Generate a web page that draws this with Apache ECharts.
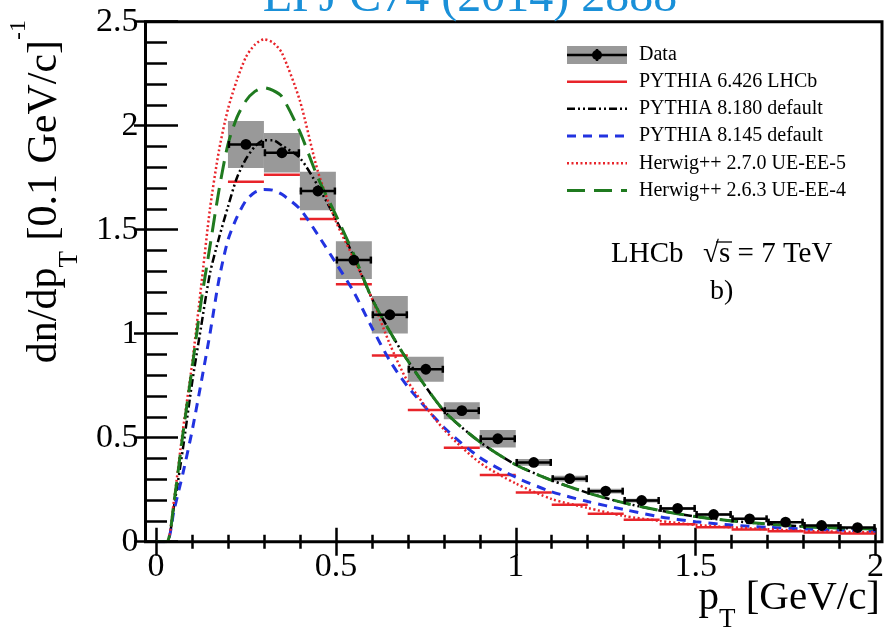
<!DOCTYPE html>
<html>
<head>
<meta charset="utf-8">
<script src="https://cdn.jsdelivr.net/npm/echarts@6/dist/echarts.min.js"></script>
<style>
  html, body { margin: 0; padding: 0; background: #fff; }
  #chart { width: 895px; height: 632px; }
</style>
</head>
<body>
<div id="chart"></div>
<script>
  // data bins (pT centres, 0.1 GeV/c wide)
  var binCenters = [0.25, 0.35, 0.45, 0.55, 0.65, 0.75, 0.85, 0.95, 1.05, 1.15, 1.25, 1.35, 1.45, 1.55, 1.65, 1.75, 1.85, 1.95];
  var dataVal    = [1.91, 1.87, 1.686, 1.354, 1.091, 0.829, 0.63, 0.495, 0.381, 0.303, 0.243, 0.198, 0.16, 0.131, 0.11, 0.094, 0.078, 0.068];
  var dataSyst   = [0.113, 0.095, 0.093, 0.091, 0.09, 0.06, 0.041, 0.042, 0.016, 0.014, 0.011, 0.009, 0.007, 0.006, 0.005, 0.004, 0.004, 0.003];
  var pythia6    = [1.731, 1.764, 1.551, 1.238, 0.895, 0.633, 0.452, 0.321, 0.236, 0.178, 0.134, 0.106, 0.084, 0.07, 0.059, 0.05, 0.044, 0.039];

  // model curves
  var ptGrid     = [0, 0.03, 0.05, 0.075, 0.1, 0.125, 0.15, 0.175, 0.2, 0.225, 0.25, 0.275, 0.3, 0.325, 0.35, 0.4, 0.45, 0.5, 0.55, 0.6, 0.65, 0.7, 0.8, 0.9, 1.0, 1.1, 1.2, 1.3, 1.4, 1.5, 1.6, 1.7, 1.8, 1.9, 2.0];
  var pythia8180 = [0, 0, 0.17, 0.45, 0.76, 1.03, 1.29, 1.46, 1.61, 1.75, 1.84, 1.9, 1.93, 1.93, 1.905, 1.845, 1.71, 1.55, 1.37, 1.17, 1.01, 0.87, 0.63, 0.48, 0.37, 0.295, 0.235, 0.187, 0.15, 0.121, 0.1, 0.085, 0.073, 0.066, 0.061];
  var pythia8145 = [0, 0, 0.15, 0.33, 0.53, 0.76, 1.0, 1.26, 1.45, 1.56, 1.64, 1.68, 1.693, 1.69, 1.67, 1.6, 1.475, 1.34, 1.2, 1.03, 0.87, 0.745, 0.55, 0.405, 0.31, 0.24, 0.193, 0.155, 0.12, 0.096, 0.08, 0.069, 0.061, 0.056, 0.051];
  var herwig270  = [0, 0, 0.2, 0.54, 0.85, 1.22, 1.6, 1.88, 2.08, 2.22, 2.33, 2.39, 2.415, 2.4, 2.35, 2.12, 1.78, 1.54, 1.36, 1.17, 0.95, 0.77, 0.54, 0.38, 0.28, 0.205, 0.162, 0.124, 0.1, 0.081, 0.069, 0.06, 0.052, 0.048, 0.045];
  var herwig263  = [0, 0, 0.19, 0.52, 0.83, 1.15, 1.42, 1.69, 1.91, 2.04, 2.12, 2.165, 2.183, 2.17, 2.14, 1.97, 1.75, 1.57, 1.38, 1.17, 1.01, 0.87, 0.63, 0.48, 0.37, 0.295, 0.235, 0.187, 0.15, 0.121, 0.1, 0.085, 0.073, 0.066, 0.061];

  var FONT  = "'Liberation Serif', 'Times New Roman', serif";
  var RED   = '#e8242a';
  var GREEN = '#1f7a1f';
  var BLUE  = '#2233e0';
  var GREY  = '#999999';
  var HALF  = 0.05;

  var chart = echarts.init(document.getElementById('chart'), null, { renderer: 'canvas' });

  function pairs(vals) {
    return ptGrid.map(function (x, i) { return [x, vals[i]]; });
  }
  function binRows(vals, extra) {
    return binCenters.map(function (x, i) { return extra ? [x, vals[i], extra[i]] : [x, vals[i]]; });
  }

  function curve(name, vals, color, width, dash, z) {
    return {
      type: 'line', name: name, data: pairs(vals), symbol: 'none', showSymbol: false,
      smooth: 0.25, z: z, silent: true,
      lineStyle: { color: color, width: width, type: dash, cap: 'butt' }
    };
  }

  // grey systematic boxes
  function renderBox(params, api) {
    var x = api.value(0), y = api.value(1), e = api.value(2);
    var a = api.coord([x - HALF, y + e]);
    var b = api.coord([x + HALF, y - e]);
    return { type: 'rect', shape: { x: a[0], y: a[1], width: b[0] - a[0], height: b[1] - a[1] }, style: { fill: GREY } };
  }
  // PYTHIA 6 histogram: one flat segment per bin
  function renderStep(params, api) {
    var x = api.value(0), y = api.value(1);
    var a = api.coord([x - HALF, y]);
    var b = api.coord([x + HALF, y]);
    return { type: 'line', shape: { x1: a[0], y1: a[1], x2: b[0], y2: b[1] }, style: { stroke: RED, lineWidth: 2.5 } };
  }
  // data points with horizontal bars and caps
  function renderPoint(params, api) {
    var x = api.value(0), y = api.value(1);
    var c = api.coord([x, y]);
    var a = api.coord([x - HALF, y]);
    var b = api.coord([x + HALF, y]);
    var st = { stroke: '#000', lineWidth: 2.5 };
    return {
      type: 'group', children: [
        { type: 'line', shape: { x1: a[0], y1: c[1], x2: b[0], y2: c[1] }, style: st },
        { type: 'line', shape: { x1: a[0] + 1, y1: c[1] - 3.5, x2: a[0] + 1, y2: c[1] + 3.5 }, style: st },
        { type: 'line', shape: { x1: b[0] - 1, y1: c[1] - 3.5, x2: b[0] - 1, y2: c[1] + 3.5 }, style: st },
        { type: 'circle', shape: { cx: c[0], cy: c[1], r: 5.4 }, style: { fill: '#000' } }
      ]
    };
  }

  var axisTickStyle = { color: '#000', width: 2.5 };
  function xAx(pos, showLabel) {
    return {
      type: 'value', position: pos, min: 0, max: 2, interval: 0.5,
      axisLine: { show: false }, splitLine: { show: false },
      axisTick: { inside: true, length: 14, lineStyle: axisTickStyle },
      minorTick: { show: true, splitNumber: 5, length: 7, lineStyle: axisTickStyle },
      axisLabel: { show: showLabel, margin: 8, fontSize: 34, fontFamily: FONT, color: '#000' }
    };
  }
  function yAx(pos, offset, showLabel) {
    return {
      type: 'value', position: pos, offset: offset, min: 0, max: 2.5, interval: 0.5,
      axisLine: { show: false }, splitLine: { show: false },
      axisTick: { inside: true, length: 22, lineStyle: axisTickStyle },
      minorTick: { show: true, splitNumber: 5, length: 11, lineStyle: axisTickStyle },
      axisLabel: { show: showLabel, margin: 7, fontSize: 34, fontFamily: FONT, color: '#000' }
    };
  }

  // manual legend (ROOT style)
  var legX = 567, legW = 60, legTx = 639, legY = [55, 81.7, 108.8, 136, 163.3, 190.6];
  var legLines = [
    ['PYTHIA 6.426 LHCb', RED, 2.5, 'solid'],
    ['PYTHIA 8.180 default', '#000', 2.5, [8, 3, 2, 3, 2, 3]],
    ['PYTHIA 8.145 default', BLUE, 3, [9, 7]],
    ['Herwig++ 2.7.0 UE-EE-5', RED, 2.5, [2, 2.5]],
    ['Herwig++ 2.6.3 UE-EE-4', GREEN, 3, [18, 9]]
  ];
  var legend = [
    { type: 'rect', shape: { x: legX, y: legY[0] - 9, width: legW, height: 18 }, style: { fill: GREY } },
    { type: 'line', shape: { x1: legX, y1: legY[0], x2: legX + legW, y2: legY[0] }, style: { stroke: '#000', lineWidth: 2.5 } },
    { type: 'line', shape: { x1: legX + legW / 2, y1: legY[0] - 6, x2: legX + legW / 2, y2: legY[0] + 6 }, style: { stroke: '#000', lineWidth: 2.5 } },
    { type: 'circle', shape: { cx: legX + legW / 2, cy: legY[0], r: 5 }, style: { fill: '#000' } },
    { type: 'text', x: legTx, y: legY[0], style: { text: 'Data', font: '20px ' + FONT, fill: '#000', verticalAlign: 'middle' } }
  ];
  legLines.forEach(function (l, i) {
    var y = legY[i + 1];
    legend.push({ type: 'line', shape: { x1: legX, y1: y, x2: legX + legW, y2: y },
      style: { stroke: l[1], lineWidth: l[2], lineDash: l[3] === 'solid' ? null : l[3] } });
    legend.push({ type: 'text', x: legTx, y: y, style: { text: l[0], font: '20px ' + FONT, fill: '#000', verticalAlign: 'middle' } });
  });

  var labelFont = '29px ' + FONT;
  var option = {
    animation: false,
    backgroundColor: '#fff',
    grid: { left: 156, right: 19.5, top: 21.7, bottom: 90.3, containLabel: false },
    xAxis: [xAx('bottom', true), xAx('top', false)],
    yAxis: [yAx('left', 10.5, true), yAx('right', 6.5, false)],
    series: [
      { type: 'custom', name: 'Data syst', data: binRows(dataVal, dataSyst), renderItem: renderBox, z: 1, silent: true },
      { type: 'custom', name: 'PYTHIA 6.426 LHCb', data: binRows(pythia6), renderItem: renderStep, z: 3, silent: true },
      curve('PYTHIA 8.180 default', pythia8180, '#000', 2.5, [8, 3, 2, 3, 2, 3], 3),
      curve('PYTHIA 8.145 default', pythia8145, BLUE, 3, [9, 7], 3),
      curve('Herwig++ 2.7.0 UE-EE-5', herwig270, RED, 2.5, [2, 2.5], 3),
      curve('Herwig++ 2.6.3 UE-EE-4', herwig263, GREEN, 3, [18, 9], 3),
      { type: 'custom', name: 'Data', data: binRows(dataVal), renderItem: renderPoint, z: 5, silent: true }
    ],
    graphic: [
      // frame
      { type: 'rect', z: 10, shape: { x: 145.5, y: 21.7, width: 736.5, height: 520 },
        style: { fill: null, stroke: '#000', lineWidth: 3 } },
      // journal reference, clipped at the top
      { type: 'text', x: 470, y: -2, z: 10,
        style: { text: 'EPJ C74 (2014) 2888', font: '48px ' + FONT, fill: '#1a90d8', align: 'center', verticalAlign: 'middle' } },
      // y title
      { type: 'text', x: 45, y: 20, rotation: Math.PI / 2, z: 10,
        style: {
          text: '{m|dn/dp}{s|T}{m| [0.1 GeV/c]}{p|-1}', align: 'right', verticalAlign: 'middle',
          rich: {
            m: { fontSize: 42, fontFamily: FONT, lineHeight: 76, fill: '#000' },
            s: { fontSize: 27, fontFamily: FONT, lineHeight: 27, verticalAlign: 'bottom', fill: '#000' },
            p: { fontSize: 24, fontFamily: FONT, lineHeight: 30, verticalAlign: 'top', fill: '#000' }
          }
        } },
      // x title
      { type: 'text', x: 880, y: 598, z: 10,
        style: {
          text: '{m|p}{s|T}{m| [GeV/c]}', align: 'right', verticalAlign: 'middle',
          rich: {
            m: { fontSize: 41, fontFamily: FONT, lineHeight: 70, fill: '#000' },
            s: { fontSize: 27, fontFamily: FONT, lineHeight: 27, verticalAlign: 'bottom', fill: '#000' }
          }
        } },
      // LHCb sqrt(s) = 7 TeV, with a bar over s
      { type: 'text', x: 611, y: 254.5, z: 10, style: { text: 'LHCb', font: labelFont, fill: '#000', verticalAlign: 'middle' } },
      { type: 'text', x: 703, y: 254.5, z: 10, style: { text: '\u221A', font: labelFont, fill: '#000', verticalAlign: 'middle' } },
      { type: 'text', x: 719, y: 254.5, z: 10, style: { text: 's = 7 TeV', font: labelFont, fill: '#000', verticalAlign: 'middle' } },
      { type: 'line', z: 10, shape: { x1: 716, y1: 242, x2: 732, y2: 242 }, style: { stroke: '#000', lineWidth: 1.3 } },
      { type: 'text', x: 710, y: 292, z: 10,
        style: { text: 'b)', font: '28px ' + FONT, fill: '#000', verticalAlign: 'middle' } },
      { type: 'group', z: 10, children: legend }
    ]
  };
  chart.setOption(option);
</script>
</body>
</html>
